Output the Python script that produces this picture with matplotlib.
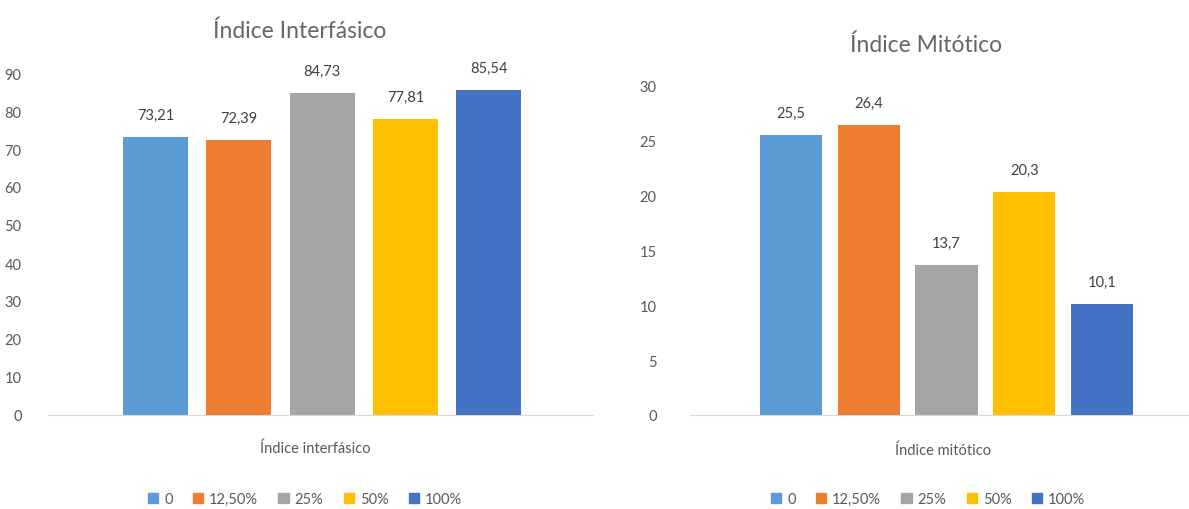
import matplotlib.pyplot as plt
from matplotlib.patches import Patch

plt.rcParams['font.family'] = ['Lato', 'DejaVu Sans']

# data
series = ["0", "12,50%", "25%", "50%", "100%"]
interfasico = [73.21, 72.39, 84.73, 77.81, 85.54]
mitotico = [25.5, 26.4, 13.7, 20.3, 10.1]
colors = ["#5B9BD5", "#ED7D31", "#A5A5A5", "#FFC000", "#4472C4"]

grey = "#595959"
W, H = 1189, 510
fig = plt.figure(figsize=(W / 100, H / 100), dpi=100)


def px(x0, y0, x1, y1):
    # pixel box (top-left origin) -> figure fraction rect
    return [x0 / W, 1 - y1 / H, (x1 - x0) / W, (y1 - y0) / H]


def fmt(v):
    return f"{v:g}".replace(".", ",")


def draw(ax, values, ymax, step, width, xlim):
    xs = range(len(values))
    bars = ax.bar(xs, values, width=width, color=colors)
    for b, v in zip(bars, values):
        ax.annotate(fmt(v), (b.get_x() + b.get_width() / 2, v),
                    xytext=(0, 11), textcoords="offset points",
                    ha="center", va="bottom", fontsize=10.5, color="#404040")
    ax.set_ylim(0, ymax)
    ax.set_xlim(*xlim)
    ax.set_yticks(range(0, ymax + 1, step))
    ax.set_xticks([])
    for s in ["top", "right", "left"]:
        ax.spines[s].set_visible(False)
    ax.spines["bottom"].set_color("#D9D9D9")
    ax.tick_params(axis="y", length=0, labelsize=10.5, labelcolor=grey)
    ax.set_facecolor("none")


axL = fig.add_axes(px(48, 74, 593, 416))
draw(axL, interfasico, 90, 10, 0.78, (-1.29, 5.25))
axL.tick_params(axis="y", pad=19)

axR = fig.add_axes(px(690, 87, 1203, 416))
draw(axR, mitotico, 30, 5, 0.80, (-1.30, 5.30))
axR.tick_params(axis="y", pad=24)

fig.text(300 / W, 1 - 31 / H, "Índice Interfásico", ha="center", va="center",
         fontsize=16.5, color="#666666")
fig.text(926 / W, 1 - 45 / H, "Índice Mitótico", ha="center", va="center",
         fontsize=16.5, color="#666666")
fig.text(315 / W, 1 - 449 / H, "Índice interfásico", ha="center", va="center",
         fontsize=10.5, color=grey)
fig.text(943 / W, 1 - 451 / H, "Índice mitótico", ha="center", va="center",
         fontsize=10.5, color=grey)

handles = [Patch(color=c, label=s) for c, s in zip(colors, series)]
for cx in (305, 928):
    fig.legend(handles=handles, loc="center", bbox_to_anchor=(cx / W, 1 - 500 / H),
               ncol=5, frameon=False, fontsize=10.5, labelcolor=grey,
               handlelength=0.7, handleheight=0.7, handletextpad=0.4,
               columnspacing=1.4)

fig.savefig("out.png", dpi=100)
